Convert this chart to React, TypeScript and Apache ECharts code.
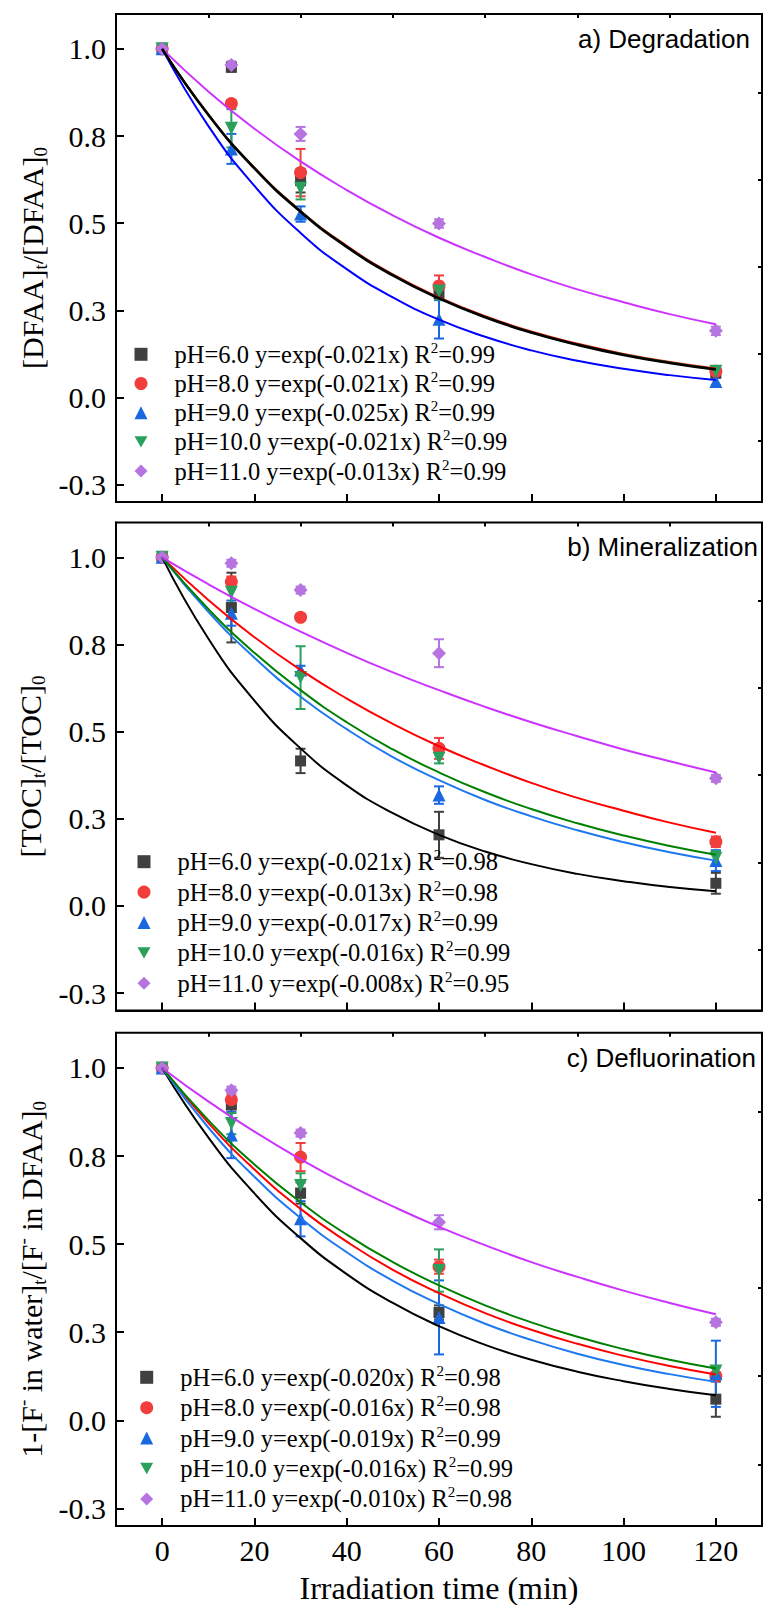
import React, { useEffect, useRef } from 'react';
import * as echarts from 'echarts';

const SERIF = 'Liberation Serif, Times New Roman, serif';
const SANS = 'Liberation Sans, Arial, sans-serif';

// ---------- data ----------
const TIME = [0, 15, 30, 60, 120];
const FIT_TIME = [0, 10, 20, 30, 40, 50, 60, 70, 80, 90, 100, 110, 120];
const PH = ['6.0', '8.0', '9.0', '10.0', '11.0'];
const X_MAJOR = [0, 20, 40, 60, 80, 100, 120];
const X_MINOR = [10, 30, 50, 70, 90, 110];
const Y_MAJOR = [-0.25, 0, 0.25, 0.5, 0.75, 1.0];
const Y_MINOR = [-0.125, 0.125, 0.375, 0.625, 0.875];

// a) Degradation  (rows: pH 6, 8, 9, 10, 11)
const DEG_MEAN = [
  [1.0, 0.947, 0.622, 0.298, 0.07],
  [1.0, 0.843, 0.645, 0.32, 0.075],
  [1.0, 0.713, 0.526, 0.224, 0.046],
  [1.0, 0.772, 0.6, 0.305, 0.075],
  [1.0, 0.954, 0.756, 0.499, 0.191],
];
const DEG_ERR = [
  [0, 0.012, 0.034, 0.012, 0.01],
  [0, 0.01, 0.068, 0.03, 0.01],
  [0, 0.043, 0.022, 0.055, 0.01],
  [0, 0.055, 0.032, 0.024, 0.015],
  [0, 0.01, 0.02, 0.012, 0.012],
];
const DEG_FIT = [
  [1, 0.811, 0.657, 0.533, 0.432, 0.35, 0.284, 0.23, 0.186, 0.151, 0.122, 0.099, 0.08],
  [1, 0.812, 0.659, 0.535, 0.435, 0.353, 0.287, 0.233, 0.189, 0.154, 0.125, 0.102, 0.083],
  [1, 0.779, 0.607, 0.472, 0.368, 0.287, 0.223, 0.174, 0.135, 0.105, 0.082, 0.064, 0.05],
  [1, 0.811, 0.658, 0.534, 0.433, 0.351, 0.285, 0.231, 0.187, 0.152, 0.123, 0.1, 0.081],
  [1, 0.878, 0.771, 0.677, 0.595, 0.522, 0.458, 0.403, 0.353, 0.31, 0.273, 0.239, 0.21],
];
const DEG_K = ['-0.021', '-0.021', '-0.025', '-0.021', '-0.013'];
const DEG_R2 = ['0.99', '0.99', '0.99', '0.99', '0.99'];

// b) Mineralization
const MIN_MEAN = [
  [1.0, 0.856, 0.416, 0.204, 0.065],
  [1.0, 0.93, 0.828, 0.452, 0.184],
  [1.0, 0.84, 0.677, 0.318, 0.13],
  [1.0, 0.9, 0.655, 0.424, 0.137],
  [1.0, 0.983, 0.906, 0.725, 0.366],
];
const MIN_ERR = [
  [0, 0.1, 0.035, 0.066, 0.03],
  [0, 0.015, 0.01, 0.03, 0.015],
  [0, 0.036, 0.012, 0.025, 0.03],
  [0, 0.035, 0.09, 0.015, 0.02],
  [0, 0.01, 0.01, 0.04, 0.01],
];
const MIN_FIT = [
  [1, 0.767, 0.589, 0.452, 0.346, 0.266, 0.204, 0.156, 0.12, 0.092, 0.071, 0.054, 0.042],
  [1, 0.878, 0.771, 0.677, 0.595, 0.522, 0.458, 0.403, 0.353, 0.31, 0.273, 0.239, 0.21],
  [1, 0.844, 0.712, 0.6, 0.507, 0.427, 0.361, 0.304, 0.257, 0.217, 0.183, 0.154, 0.13],
  [1, 0.852, 0.726, 0.619, 0.527, 0.449, 0.383, 0.326, 0.278, 0.237, 0.202, 0.172, 0.147],
  [1, 0.923, 0.852, 0.787, 0.726, 0.67, 0.619, 0.571, 0.527, 0.487, 0.449, 0.415, 0.383],
];
const MIN_K = ['-0.021', '-0.013', '-0.017', '-0.016', '-0.008'];
const MIN_R2 = ['0.98', '0.98', '0.99', '0.99', '0.95'];

// c) Defluorination
const DEF_MEAN = [
  [1.0, 0.895, 0.645, 0.306, 0.06],
  [1.0, 0.91, 0.747, 0.436, 0.126],
  [1.0, 0.81, 0.572, 0.292, 0.132],
  [1.0, 0.842, 0.666, 0.425, 0.14],
  [1.0, 0.937, 0.815, 0.562, 0.278],
];
const DEF_ERR = [
  [0, 0.04, 0.03, 0.02, 0.05],
  [0, 0.02, 0.04, 0.02, 0.01],
  [0, 0.066, 0.05, 0.105, 0.094],
  [0, 0.03, 0.035, 0.06, 0.01],
  [0, 0.01, 0.01, 0.02, 0.01],
];
const DEF_FIT = [
  [1, 0.803, 0.644, 0.517, 0.415, 0.333, 0.267, 0.214, 0.172, 0.138, 0.111, 0.089, 0.071],
  [1, 0.844, 0.712, 0.6, 0.507, 0.427, 0.361, 0.304, 0.257, 0.217, 0.183, 0.154, 0.13],
  [1, 0.831, 0.691, 0.574, 0.477, 0.396, 0.33, 0.274, 0.228, 0.189, 0.157, 0.131, 0.109],
  [1, 0.852, 0.726, 0.619, 0.527, 0.449, 0.383, 0.326, 0.278, 0.237, 0.202, 0.172, 0.147],
  [1, 0.905, 0.819, 0.741, 0.67, 0.607, 0.549, 0.497, 0.449, 0.407, 0.368, 0.333, 0.301],
];
const DEF_K = ['-0.020', '-0.016', '-0.019', '-0.016', '-0.010'];
const DEF_R2 = ['0.98', '0.98', '0.99', '0.99', '0.98'];

// ---------- styles ----------
const MARK_COLORS = ['#404040', '#f23d3d', '#1a68e0', '#2aa05c', '#b574e0'];
const LINE_COLORS = [
  ['#000000', '#ff0000', '#0000ff', '#008000', '#cc33ff'],
  ['#000000', '#ff0000', '#1e78f0', '#008000', '#cc33ff'],
  ['#000000', '#ff0000', '#1e78f0', '#008000', '#cc33ff'],
];
const SYMBOLS = ['rect', 'circle', 'triangle', 'triangle', 'diamond'];
const SYMBOL_ROT = [0, 0, 0, 180, 0];
const SYMBOL_SIZE = [11, 13, 13, 13, 14];
const LEGEND_ICONS = ['rect', 'circle', 'triangle', 'path://M0,0L10,0L5,8.66Z', 'diamond'];

const GRID_TOP = [14, 522.5, 1032.7];
const GRID_H = [488, 488, 493.3];
const LEGEND_POS = [
  { left: 134.5, top: 340.3, gap: 2.7 },
  { left: 137.5, top: 847.7, gap: 3.9 },
  { left: 140.2, top: 1363.3, gap: 3.9 },
];
const TITLE_POS = [
  { right: 13, top: 26 },
  { right: 5, top: 534 },
  { right: 7, top: 1045 },
];
const YNAME_X = [32, 30, 31];
const X_MIN = -10;
const X_MAX = 130;
const Y_MIN = -0.3;
const Y_MAX = 1.1;

const PANELS = [
  { key: 'a', title: 'a) Degradation', mean: DEG_MEAN, err: DEG_ERR, fit: DEG_FIT, k: DEG_K, r2: DEG_R2,
    yName: '{m|[DFAA]}{sub|t}{m|/[DFAA]}{sub|0}', lineOrder: [1, 3, 4, 2, 0] },
  { key: 'b', title: 'b) Mineralization', mean: MIN_MEAN, err: MIN_ERR, fit: MIN_FIT, k: MIN_K, r2: MIN_R2,
    yName: '{m|[TOC]}{sub|t}{m|/[TOC]}{sub|0}', lineOrder: [0, 1, 2, 3, 4] },
  { key: 'c', title: 'c) Defluorination', mean: DEF_MEAN, err: DEF_ERR, fit: DEF_FIT, k: DEF_K, r2: DEF_R2,
    yName: '{m|1-[F}{sup|-}{m| in water]}{sub|t}{m|/[F}{sup|-}{m| in DFAA]}{sub|0}', lineOrder: [0, 1, 2, 3, 4] },
];

const NAME_RICH = {
  m: { fontFamily: SERIF, fontSize: 30, fill: '#000', color: '#000', lineHeight: 36 },
  sub: { fontFamily: SERIF, fontSize: 19, fill: '#000', color: '#000', lineHeight: 36, verticalAlign: 'bottom' },
  sup: { fontFamily: SERIF, fontSize: 19, fill: '#000', color: '#000', lineHeight: 36, verticalAlign: 'top' },
};

function errorSeries(gi: number, data: number[][], color: string) {
  return {
    type: 'custom',
    xAxisIndex: gi,
    yAxisIndex: gi,
    z: 2,
    silent: true,
    data,
    encode: { x: 0, y: [1, 2] },
    renderItem: (params: any, api: any) => {
      const x = api.value(0);
      const lo = api.coord([x, api.value(1)]);
      const hi = api.coord([x, api.value(2)]);
      const hw = 5;
      const style = { stroke: color, lineWidth: 2 };
      return {
        type: 'group',
        children: [
          { type: 'line', shape: { x1: lo[0], y1: lo[1], x2: hi[0], y2: hi[1] }, style },
          { type: 'line', shape: { x1: lo[0] - hw, y1: lo[1], x2: lo[0] + hw, y2: lo[1] }, style },
          { type: 'line', shape: { x1: hi[0] - hw, y1: hi[1], x2: hi[0] + hw, y2: hi[1] }, style },
        ],
      };
    },
  };
}

// tick labels drawn through the axes' own scales (serif font)
function yTickLabelSeries(gi: number) {
  return {
    type: 'custom',
    xAxisIndex: gi,
    yAxisIndex: gi,
    z: 5,
    silent: true,
    clip: false,
    data: Y_MAJOR.map((v) => [X_MIN, v]),
    encode: { x: 0, y: 1 },
    renderItem: (params: any, api: any) => {
      const v = api.value(1);
      const p = api.coord([X_MIN, v]);
      return {
        type: 'text',
        x: p[0] - 10,
        y: p[1],
        style: {
          text: v.toFixed(1), fontFamily: SERIF, fontSize: 30, fill: '#000',
          align: 'right', verticalAlign: 'middle',
        },
      };
    },
  };
}

function xTickLabelSeries(gi: number) {
  return {
    type: 'custom',
    xAxisIndex: gi,
    yAxisIndex: gi,
    z: 5,
    silent: true,
    clip: false,
    data: X_MAJOR.map((v) => [v, Y_MIN]),
    encode: { x: 0, y: 1 },
    renderItem: (params: any, api: any) => {
      const v = api.value(0);
      const p = api.coord([v, Y_MIN]);
      return {
        type: 'text',
        x: p[0],
        y: p[1] + 9,
        style: {
          text: String(v), fontFamily: SERIF, fontSize: 30, fill: '#000',
          align: 'center', verticalAlign: 'top',
        },
      };
    },
  };
}

function buildOption() {
  const grid = PANELS.map((p, i) => ({
    left: 116, right: 1, top: GRID_TOP[i], height: GRID_H[i],
    show: true, borderColor: '#000', borderWidth: 2,
  }));

  const xMajor = PANELS.map((p, i) => ({
    type: 'value', gridIndex: i, min: X_MIN, max: X_MAX,
    axisLine: { show: true, onZero: false, lineStyle: { color: '#000', width: 2 } },
    axisTick: { show: true, inside: true, length: 8, customValues: X_MAJOR, lineStyle: { color: '#000', width: 2 } },
    axisLabel: { show: false },
    splitLine: { show: false },
    name: i === 2 ? 'Irradiation time (min)' : '',
    nameLocation: 'middle', nameGap: 46,
    nameTextStyle: { fontFamily: SERIF, fontSize: 32, color: '#000', verticalAlign: 'top' },
  }));
  const xMinor = PANELS.map((p, i) => ({
    type: 'value', gridIndex: i, min: X_MIN, max: X_MAX,
    axisLine: { show: false, onZero: false },
    axisTick: { show: true, inside: true, length: 4, customValues: X_MINOR, lineStyle: { color: '#000', width: 2 } },
    axisLabel: { show: false },
    splitLine: { show: false },
  }));

  const yMajor = PANELS.map((p, i) => ({
    type: 'value', gridIndex: i, min: Y_MIN, max: Y_MAX,
    axisLine: { show: true, onZero: false, lineStyle: { color: '#000', width: 2 } },
    axisTick: { show: true, inside: true, length: 8, customValues: Y_MAJOR, lineStyle: { color: '#000', width: 2 } },
    axisLabel: { show: false },
    splitLine: { show: false },
  }));
  const yMinor = PANELS.map((p, i) => ({
    type: 'value', gridIndex: i, min: Y_MIN, max: Y_MAX,
    axisLine: { show: false, onZero: false },
    axisTick: { show: true, inside: true, length: 4, customValues: Y_MINOR, lineStyle: { color: '#000', width: 2 } },
    axisLabel: { show: false },
    splitLine: { show: false },
  }));

  const series: any[] = [];
  PANELS.forEach((p, gi) => {
    p.mean.forEach((row, si) => {
      const data = TIME.map((t, j) => [t, row[j] - p.err[si][j], row[j] + p.err[si][j]])
        .filter((d, j) => p.err[si][j] > 0);
      series.push(errorSeries(gi, data, MARK_COLORS[si]));
    });
    p.mean.forEach((row, si) => {
      series.push({
        type: 'scatter', name: `${p.key}${si}`,
        xAxisIndex: gi, yAxisIndex: gi, z: 3,
        symbol: SYMBOLS[si], symbolRotate: SYMBOL_ROT[si], symbolSize: SYMBOL_SIZE[si],
        itemStyle: { color: MARK_COLORS[si], opacity: 1 },
        data: TIME.map((t, j) => [t, row[j]]),
      });
    });
    p.lineOrder.forEach((si) => {
      series.push({
        type: 'line', name: `${p.key}${si}-fit`,
        xAxisIndex: gi, yAxisIndex: gi, z: 4,
        smooth: true, showSymbol: false, symbol: 'none', silent: true,
        lineStyle: { color: LINE_COLORS[gi][si], width: si === 0 && gi === 0 ? 2.6 : 2 },
        itemStyle: { color: LINE_COLORS[gi][si] },
        data: FIT_TIME.map((t, j) => [t, p.fit[si][j]]),
      });
    });
    series.push(yTickLabelSeries(gi));
    if (gi === 2) series.push(xTickLabelSeries(gi));
  });

  const legend = PANELS.map((p, gi) => ({
    orient: 'vertical',
    left: LEGEND_POS[gi].left, top: LEGEND_POS[gi].top, itemGap: LEGEND_POS[gi].gap,
    itemWidth: 13, itemHeight: 13, padding: 0,
    data: PH.map((ph, si) => ({ name: `${p.key}${si}`, icon: LEGEND_ICONS[si] })),
    formatter: (name: string) => {
      const si = Number(name.slice(1));
      return `{p|pH=${PH[si]} y=exp(${p.k[si]}x) R}{sup|2}{t|=${p.r2[si]}}`;
    },
    textStyle: {
      fontFamily: SERIF, fontSize: 24.5, color: '#000',
      rich: {
        p: { fontFamily: SERIF, fontSize: 24.5, color: '#000', lineHeight: 28, padding: [0, 0, 0, 22] },
        t: { fontFamily: SERIF, fontSize: 24.5, color: '#000', lineHeight: 28 },
        sup: { fontFamily: SERIF, fontSize: 15, color: '#000', lineHeight: 28, verticalAlign: 'top' },
      },
    },
  }));

  const title = PANELS.map((p, gi) => ({
    text: p.title, right: TITLE_POS[gi].right, top: TITLE_POS[gi].top, padding: 0,
    textStyle: { fontFamily: SANS, fontSize: 26, fontWeight: 'normal', color: '#000', lineHeight: 26 },
  }));

  const graphic = PANELS.map((p, gi) => ({
    type: 'text',
    x: YNAME_X[gi],
    y: GRID_TOP[gi] + GRID_H[gi] / 2,
    rotation: Math.PI / 2,
    silent: true,
    style: {
      text: p.yName,
      align: 'center',
      verticalAlign: 'middle',
      fontFamily: SERIF,
      fontSize: 30,
      fill: '#000',
      rich: NAME_RICH,
    },
  }));

  return {
    animation: false,
    backgroundColor: '#ffffff',
    textStyle: { fontFamily: SERIF },
    title,
    legend,
    grid,
    xAxis: [...xMajor, ...xMinor],
    yAxis: [...yMajor, ...yMinor],
    graphic,
    series,
  };
}

export default function App() {
  const ref = useRef<HTMLDivElement>(null);
  useEffect(() => {
    const chart = echarts.init(ref.current as HTMLDivElement, null, { renderer: 'svg' });
    chart.setOption(buildOption() as any);
    return () => chart.dispose();
  }, []);
  return (
    <div
      ref={ref}
      style={{ position: 'absolute', left: 0, top: 0, width: 763, height: 1605, background: '#fff' }}
    />
  );
}
